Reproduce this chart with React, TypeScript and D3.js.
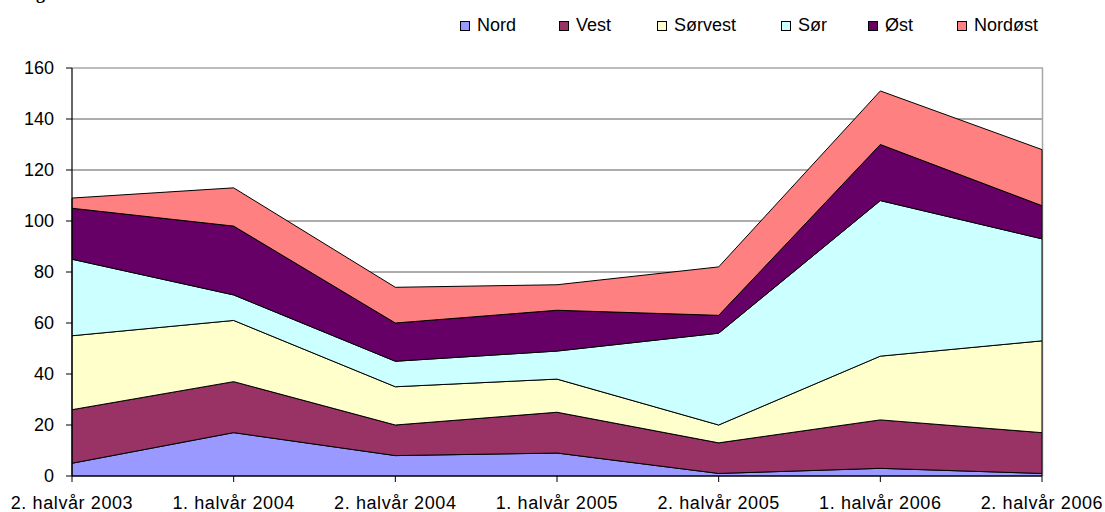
import React from "react";
import * as d3 from "d3";

const categories = [
  "2. halvår 2003",
  "1. halvår 2004",
  "2. halvår 2004",
  "1. halvår 2005",
  "2. halvår 2005",
  "1. halvår 2006",
  "2. halvår 2006",
];
const seriesNames = ["Nord", "Vest", "Sørvest", "Sør", "Øst", "Nordøst"];
const nord = [5, 17, 8, 9, 1, 3, 1];
const vest = [21, 20, 12, 16, 12, 19, 16];
const sorvest = [29, 24, 15, 13, 7, 25, 36];
const sor = [30, 10, 10, 11, 36, 61, 40];
const ost = [20, 27, 15, 16, 7, 22, 13];
const nordost = [4, 15, 14, 10, 19, 21, 22];
const yTicks = [0, 20, 40, 60, 80, 100, 120, 140, 160];
const colors = ["#9999FF", "#993366", "#FFFFCC", "#CCFFFF", "#660066", "#FF8080"];

const W = 1105;
const H = 512;
const left = 72;
const right = 1042;
const top = 68;
const bottom = 476;

export default function App() {
  const values = [nord, vest, sorvest, sor, ost, nordost];
  const rows = categories.map((c, i) => {
    const r: any = { cat: c, idx: i };
    seriesNames.forEach((s, k) => (r[s] = values[k][i]));
    return r;
  });
  const stacked = d3.stack<any>().keys(seriesNames)(rows);
  const x = d3.scalePoint<number>().domain(categories.map((_, i) => i)).range([left, right]);
  const y = d3.scaleLinear().domain([0, 160]).range([bottom, top]);
  const area = d3
    .area<any>()
    .x((d) => x(d.data.idx) as number)
    .y0((d) => y(d[0]))
    .y1((d) => y(d[1]));

  const legendX = [460, 559, 657, 781, 868, 957];
  const font = "'Liberation Sans', Arial, sans-serif";

  return (
    <svg
      width={W}
      height={H}
      style={{ position: "absolute", left: 0, top: 0, overflow: "hidden", background: "#fff" }}
    >
      <rect x={0} y={0} width={W} height={H} fill="#fff" />
      <text x={20} y={-1} fontFamily="'Liberation Serif', 'Times New Roman', serif" fontWeight="bold" fontSize={18}>
        Figur
      </text>
      {/* gridlines */}
      {yTicks
        .filter((t) => t > 0 && t < 160)
        .map((t) => (
          <line key={t} x1={left} x2={right} y1={y(t)} y2={y(t)} stroke="#5a5a5a" strokeWidth={1} />
        ))}
      {/* plot border top/right */}
      <line x1={left} x2={right + 1} y1={y(160)} y2={y(160)} stroke="#a6a6a6" strokeWidth={1.5} />
      <line x1={right + 0.5} x2={right + 0.5} y1={top} y2={bottom} stroke="#a6a6a6" strokeWidth={1.5} />
      {/* areas */}
      {stacked.map((s, k) => (
        <path
          key={s.key}
          d={area(s) as string}
          fill={colors[k]}
          stroke="#000"
          strokeWidth={1}
          strokeLinejoin="miter"
        />
      ))}
      {/* y axis */}
      <line x1={left} x2={left} y1={top} y2={bottom} stroke="#000" strokeWidth={1.2} />
      {yTicks.map((t) => (
        <g key={t}>
          <line x1={left - 6} x2={left} y1={y(t)} y2={y(t)} stroke="#000" strokeWidth={1} />
          <text
            x={54}
            y={y(t)}
            dy="0.35em"
            textAnchor="end"
            fontFamily={font}
            fontSize={18}
            fill="#000"
          >
            {t}
          </text>
        </g>
      ))}
      {/* x axis */}
      <line x1={left} x2={right} y1={bottom} y2={bottom} stroke="#000" strokeWidth={1.2} />
      {categories.map((c, i) => (
        <g key={c}>
          <line x1={x(i)} x2={x(i)} y1={bottom} y2={bottom + 6} stroke="#000" strokeWidth={1} />
          <text
            x={x(i) as number}
            y={509}
            textAnchor="middle"
            fontFamily={font}
            fontSize={18}
            letterSpacing={0.6}
            fill="#000"
          >
            {c}
          </text>
        </g>
      ))}
      {/* legend */}
      {seriesNames.map((s, k) => (
        <g key={s}>
          <rect x={legendX[k] + 0.5} y={21.5} width={9} height={9} fill={colors[k]} stroke="#000" strokeWidth={1} />
          <text x={legendX[k] + 17} y={31} fontFamily={font} fontSize={18} fill="#000">
            {s}
          </text>
        </g>
      ))}
    </svg>
  );
}
